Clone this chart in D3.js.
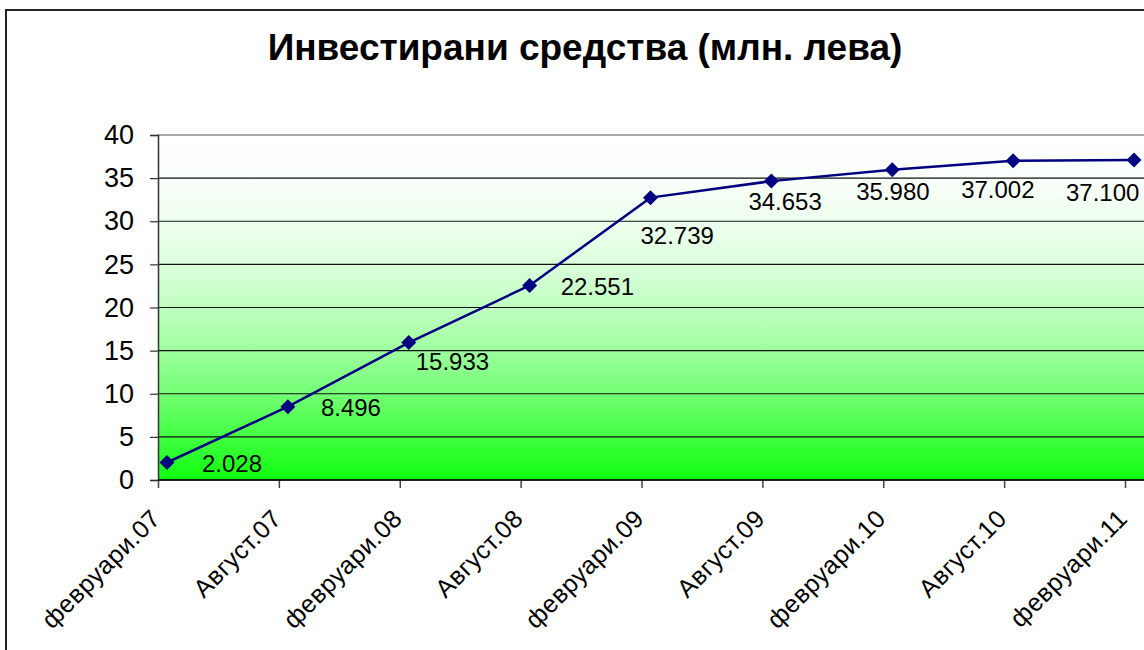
<!DOCTYPE html>
<html><head><meta charset="utf-8">
<script src="https://cdn.jsdelivr.net/npm/d3@7"></script>
<style>
html,body{margin:0;padding:0;background:#fff;}
svg{display:block;font-family:Arial,"Liberation Sans",sans-serif;}
</style></head>
<body>
<svg id="chart" width="1144" height="650"></svg>
<script>
const title = "Инвестирани средства (млн. лева)";
const categories = ["февруари.07","Август.07","февруари.08","Август.08","февруари.09","Август.09","февруари.10","Август.10","февруари.11"];
const values = [2.028, 8.496, 15.933, 22.551, 32.739, 34.653, 35.980, 37.002, 37.100];
const yTicks = [0,5,10,15,20,25,30,35,40];
// label placement offsets relative to each point (layout, not data)
const labelOffsets = [[35,1],[33,1],[7,19],[31,1],[-10,38],[-23,20],[-36,22],[-52,29],[-68,32]];

const svg = d3.select("#chart");
const W = 1144, H = 650;
const plot = {left:158, right:1150, top:135, bottom:480};

// outer border
svg.append("rect").attr("x",6).attr("y",10).attr("width",W).attr("height",H)
  .attr("fill","#fff").attr("stroke","#222").attr("stroke-width",2);

// gradient (quadratic-like fade white -> green)
const defs = svg.append("defs");
const grad = defs.append("linearGradient").attr("id","g").attr("x1",0).attr("y1",0).attr("x2",0).attr("y2",1);
[[0,"#ffffff"],[0.15,"#f8fff8"],[0.3,"#e8ffe8"],[0.45,"#ccffcc"],[0.6,"#a6ffa6"],[0.75,"#74ff74"],[0.88,"#40ff40"],[1,"#0eff0e"]]
  .forEach(s=>grad.append("stop").attr("offset",s[0]).attr("stop-color",s[1]));
svg.append("rect").attr("x",plot.left).attr("y",plot.top)
  .attr("width",plot.right-plot.left).attr("height",plot.bottom-plot.top)
  .attr("fill","url(#g)");

const x = d3.scalePoint().domain(categories).range([167,1134]);
const tickShift = -9;
const y = d3.scaleLinear().domain([0,40]).range([plot.bottom, plot.top]);

// grid lines
svg.append("g").selectAll("line").data(yTicks).join("line")
  .attr("x1",plot.left).attr("x2",plot.right)
  .attr("y1",d=>y(d)).attr("y2",d=>y(d))
  .attr("stroke",d=>d===40?"#555":"#111").attr("stroke-width",1.2);

// y axis
const yAxis = svg.append("g").attr("transform",`translate(${plot.left},0)`)
  .call(d3.axisLeft(y).tickValues(yTicks).tickSize(8).tickPadding(16).tickFormat(d3.format("d")));
yAxis.select(".domain").attr("stroke","#333").attr("stroke-width",1.5);
yAxis.selectAll(".tick line").attr("stroke","#333").attr("stroke-width",1.2);
yAxis.selectAll("text").attr("font-size",27).attr("fill","#000").attr("font-family","Arial, 'Liberation Sans', sans-serif");

// x axis
const xAxis = svg.append("g").attr("transform",`translate(${tickShift},${plot.bottom})`)
  .call(d3.axisBottom(x).tickSize(8).tickSizeOuter(0).tickFormat(""));
xAxis.select(".domain").remove();
xAxis.selectAll(".tick line").attr("stroke","#444").attr("stroke-width",1.5);
svg.append("line").attr("x1",plot.left).attr("x2",plot.right).attr("y1",plot.bottom).attr("y2",plot.bottom)
  .attr("stroke","#000").attr("stroke-width",1.5);

// x labels rotated
svg.append("g").selectAll("text").data(categories).join("text")
  .attr("transform",d=>`translate(${x(d)+tickShift+4},${plot.bottom+40}) rotate(-45)`)
  .attr("text-anchor","end")
  .attr("font-size",25)
  .attr("letter-spacing",0.5)
  .attr("fill","#000")
  .text(d=>d);

// line
svg.append("path").datum(values)
  .attr("d", d3.line().x((d,i)=>x(categories[i])).y(d=>y(d)))
  .attr("fill","none").attr("stroke","#000080").attr("stroke-width",2.5);

// markers
svg.append("g").selectAll("path").data(values).join("path")
  .attr("transform",(d,i)=>`translate(${x(categories[i])},${y(d)})`)
  .attr("d","M0,-7.5L7.5,0L0,7.5L-7.5,0Z")
  .attr("fill","#000080");

// data labels
svg.append("g").selectAll("text").data(values).join("text")
  .attr("x",(d,i)=>x(categories[i])+labelOffsets[i][0])
  .attr("y",(d,i)=>y(d)+labelOffsets[i][1])
  .attr("dominant-baseline","central")
  .attr("font-size",24)
  .attr("fill","#000")
  .text(d=>d3.format(".3f")(d));

// title
svg.append("text").attr("x",585).attr("y",60).attr("text-anchor","middle")
  .attr("font-size",37).attr("font-weight","bold").attr("fill","#000")
  .text(title);
</script>
</body></html>
